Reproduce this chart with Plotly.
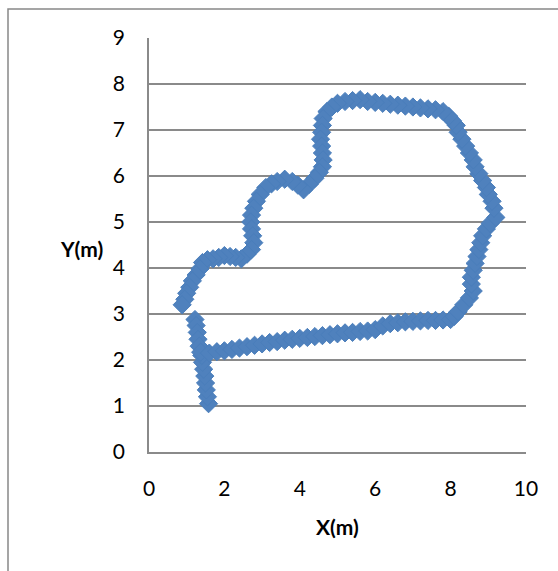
import plotly.graph_objects as go

# Stem at the bottom (bottom -> up)
stem_x = [1.58, 1.55, 1.52, 1.50, 1.48, 1.45, 1.42, 1.40]
stem_y = [1.05, 1.20, 1.35, 1.50, 1.65, 1.80, 1.95, 2.10]

# Short segment above the junction (top -> down)
seg_x = [1.22, 1.25, 1.28, 1.30, 1.33, 1.37]
seg_y = [2.88, 2.75, 2.60, 2.45, 2.30, 2.17]

# Lower edge of the loop (left -> right)
low_x = [1.6, 1.8, 2.0, 2.2, 2.4, 2.6, 2.8, 3.0, 3.2, 3.4, 3.6, 3.8, 4.0, 4.2, 4.4, 4.6,
         4.8, 5.0, 5.2, 5.4, 5.6, 5.8, 6.0, 6.2, 6.4, 6.6, 6.8, 7.0, 7.2, 7.4, 7.6, 7.8, 8.0]
low_y = [2.15, 2.18, 2.20, 2.23, 2.26, 2.29, 2.32, 2.35, 2.38, 2.40, 2.43, 2.45, 2.47, 2.49,
         2.51, 2.53, 2.55, 2.57, 2.59, 2.60, 2.62, 2.63, 2.66, 2.74, 2.79, 2.81, 2.83, 2.84,
         2.85, 2.86, 2.86, 2.87, 2.88]

# Right side (bottom -> top)
right_x = [8.10, 8.20, 8.35, 8.50, 8.60, 8.55, 8.55, 8.60, 8.65, 8.70, 8.75, 8.80, 8.85, 8.95,
           9.05, 9.20, 9.15, 9.10, 9.00, 8.95, 8.85, 8.75, 8.65, 8.60, 8.50, 8.40, 8.30, 8.20,
           8.15, 8.05, 7.95, 7.80]
right_y = [2.95, 3.05, 3.20, 3.35, 3.50, 3.65, 3.80, 3.95, 4.10, 4.25, 4.40, 4.55, 4.70, 4.85,
           4.97, 5.10, 5.30, 5.45, 5.60, 5.75, 5.90, 6.05, 6.20, 6.35, 6.50, 6.65, 6.80, 6.95,
           7.10, 7.20, 7.30, 7.40]

# Upper / left part (right -> left, then down to the left tip)
up_x = [7.6, 7.4, 7.2, 7.0, 6.8, 6.6, 6.4, 6.2, 6.0, 5.8, 5.6, 5.4, 5.2, 5.0, 4.85, 4.72,
        4.62, 4.60, 4.58, 4.55, 4.58, 4.60, 4.62, 4.60, 4.52, 4.40, 4.25, 4.10, 3.95, 3.80,
        3.60, 3.40, 3.25, 3.10, 2.95, 2.85, 2.78, 2.72, 2.70, 2.72, 2.75, 2.78, 2.72, 2.60,
        2.45, 2.30, 2.15, 2.00, 1.85, 1.70, 1.55, 1.42, 1.35, 1.25, 1.15, 1.08, 1.00, 0.95, 0.88]
up_y = [7.44, 7.46, 7.48, 7.50, 7.52, 7.54, 7.56, 7.58, 7.60, 7.62, 7.66, 7.64, 7.62, 7.58,
        7.50, 7.40, 7.25, 7.10, 6.95, 6.80, 6.65, 6.50, 6.35, 6.20, 6.08, 5.95, 5.82, 5.70,
        5.80, 5.88, 5.93, 5.88, 5.83, 5.75, 5.60, 5.45, 5.30, 5.15, 5.00, 4.85, 4.70, 4.55,
        4.40, 4.30, 4.20, 4.23, 4.25, 4.27, 4.23, 4.20, 4.18, 4.12, 3.98, 3.85, 3.72, 3.58,
        3.45, 3.32, 3.20]

x_vals = stem_x + seg_x + low_x + right_x + up_x
y_vals = stem_y + seg_y + low_y + right_y + up_y

x_ticks = [0, 2, 4, 6, 8, 10]
y_ticks = [0, 1, 2, 3, 4, 5, 6, 7, 8, 9]

FONT = "Lato"
GRID = "#8A8A8A"
FS = 21

fig = go.Figure()
fig.add_trace(go.Scatter(
    x=x_vals, y=y_vals, mode="markers",
    marker=dict(symbol="diamond", size=14, color="#4F81BD",
                line=dict(color="#4A7EBB", width=1)),
    showlegend=False, hoverinfo="skip",
))

fig.update_layout(
    width=558, height=571,
    margin=dict(l=149, r=32, t=38, b=119),
    paper_bgcolor="white", plot_bgcolor="white",
    font=dict(family=FONT, size=FS, color="black"),
    xaxis=dict(range=[0, 10], tickvals=x_ticks, showgrid=False, zeroline=False,
               showline=True, linecolor=GRID, linewidth=1.5, ticks="",
               ticklabelstandoff=17, tickfont=dict(family=FONT, size=FS)),
    yaxis=dict(range=[0, 9], tickvals=y_ticks, showgrid=True, gridcolor=GRID, gridwidth=1.5,
               zeroline=False, showline=True, linecolor=GRID, linewidth=1.5, ticks="",
               ticklabelstandoff=18, tickfont=dict(family=FONT, size=FS)),
    annotations=[
        dict(text="<b>X(m)</b>", xref="paper", yref="paper", x=0.5, y=-0.18,
             showarrow=False, font=dict(family=FONT, size=FS), xanchor="center", yanchor="middle"),
        dict(text="<b>Y(m)</b>", xref="paper", yref="paper", x=-0.18, y=0.492,
             showarrow=False, font=dict(family=FONT, size=FS), xanchor="center", yanchor="middle"),
    ],
    shapes=[
        dict(type="rect", xref="paper", yref="paper", x0=-0.374, x1=1.3, y0=-0.5, y1=1.070,
             line=dict(color="#888888", width=1.5), fillcolor="rgba(0,0,0,0)", layer="below"),
    ],
)

fig.write_html("out.html")
